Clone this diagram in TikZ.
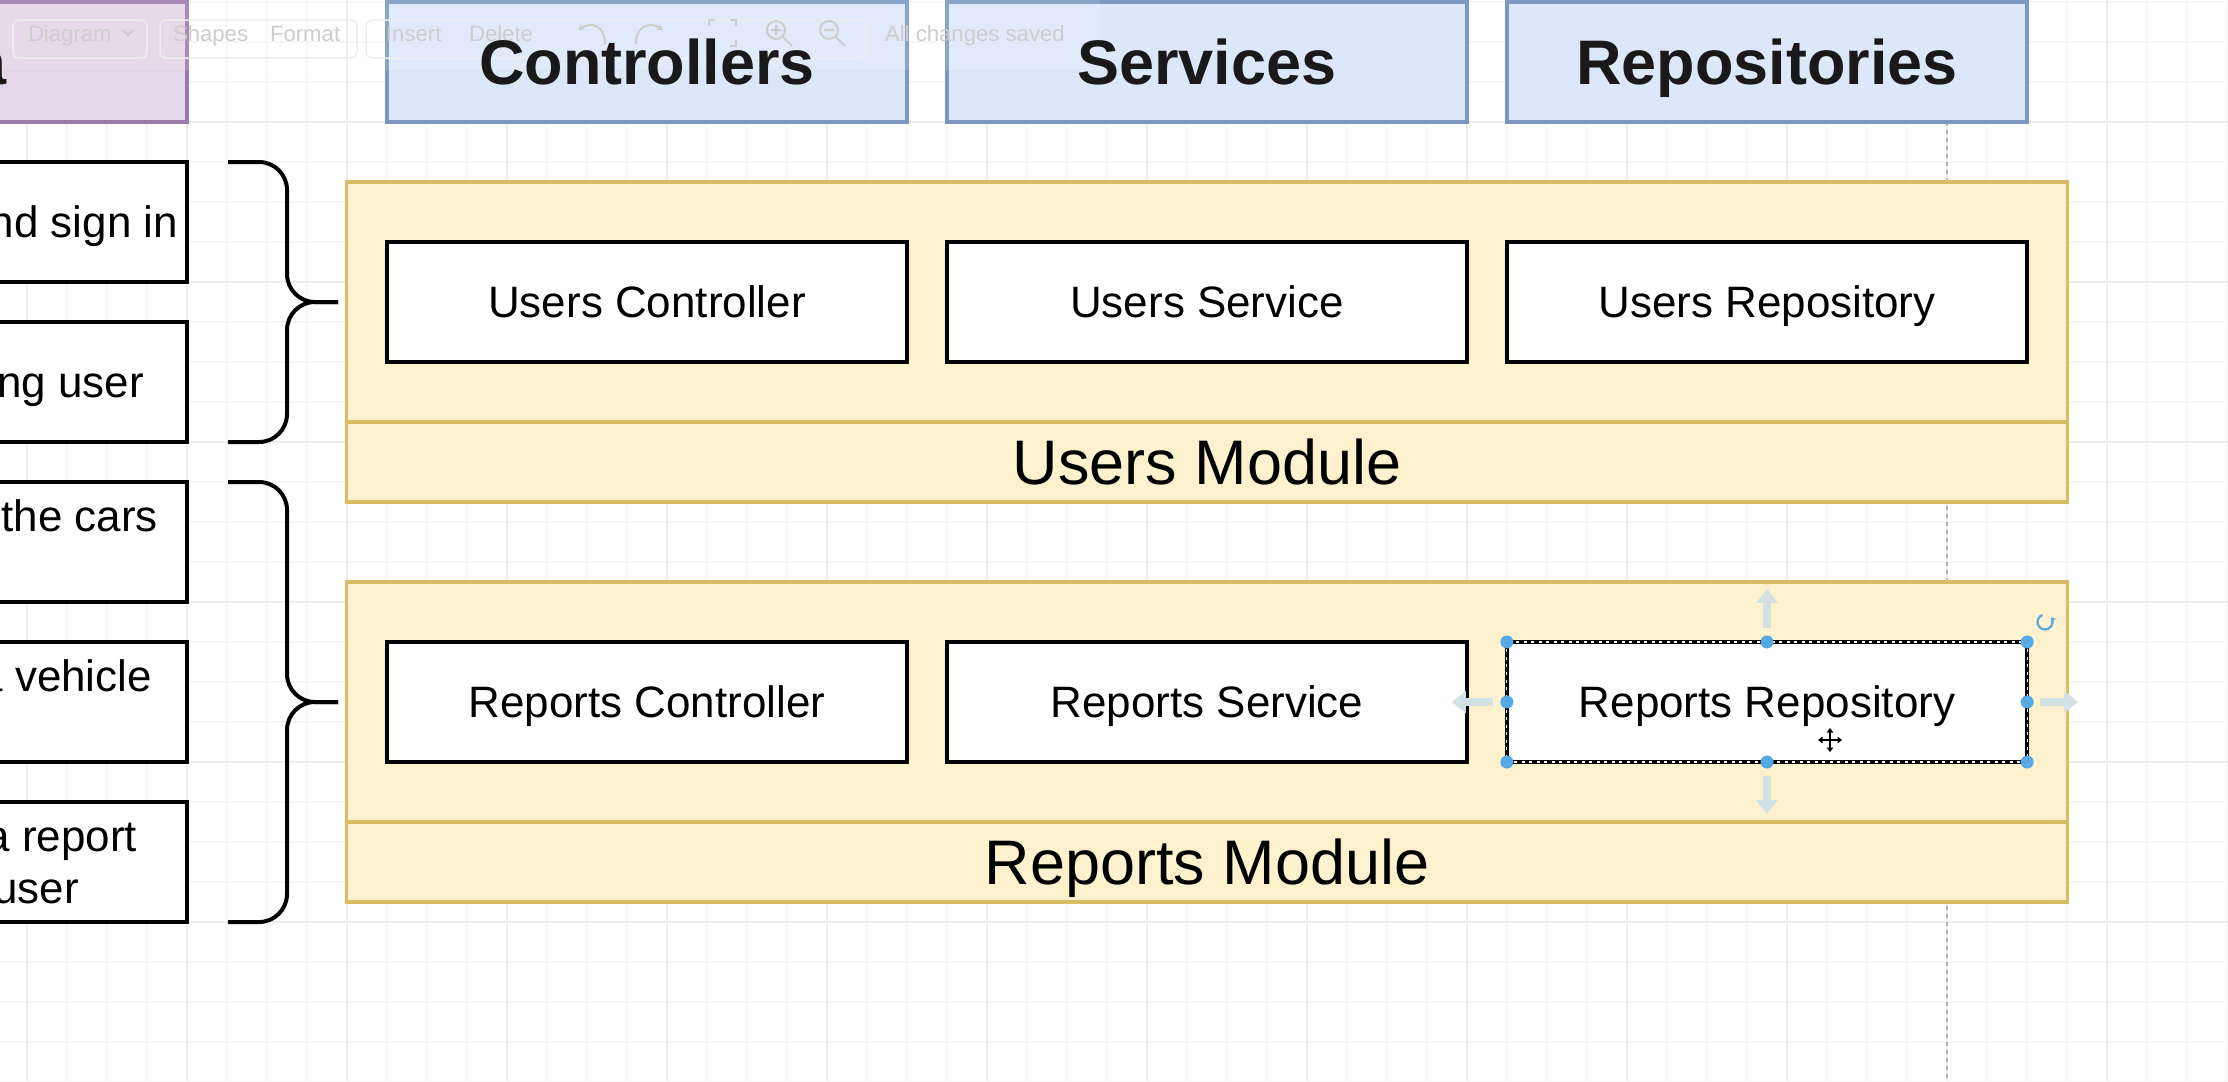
\documentclass[tikz,border=0pt]{standalone}
\usepackage{fontspec}
\setmainfont{Liberation Sans}
\usetikzlibrary{arrows.meta}

\definecolor{hdrfill}{HTML}{DCE8FA}
\definecolor{hdrline}{HTML}{7D97C2}
\definecolor{modfill}{HTML}{FDF1CE}
\definecolor{modline}{HTML}{D9BC66}
\definecolor{purfill}{HTML}{E3D6E8}
\definecolor{purline}{HTML}{9C7BAB}
\definecolor{gridminor}{HTML}{F6F6F6}
\definecolor{gridmajor}{HTML}{EDEDED}
\definecolor{handle}{HTML}{55AAE6}
\definecolor{hint}{HTML}{D2E2E4}
\definecolor{tbgray}{HTML}{CDCDCD}

\begin{document}
\begin{tikzpicture}[x=0.01cm, y=-0.01cm,
  every node/.style={inner sep=0pt, outer sep=0pt},
  hdrbox/.style={draw=hdrline, fill=hdrfill, line width=0.035cm,
    minimum width=5.2cm, minimum height=1.2cm},
  hdrtext/.style={font=\bfseries\fontsize{17.9}{21.5}\selectfont, text=black!90,
    text height=0.45cm, text depth=0pt},
  purbox/.style={draw=purline, fill=purfill, line width=0.035cm,
    minimum width=5.2cm, minimum height=1.2cm},
  modbody/.style={draw=modline, fill=modfill, line width=0.035cm,
    minimum width=17.2cm, minimum height=2.4cm},
  modband/.style={draw=modline, fill=modfill, line width=0.035cm,
    minimum width=17.2cm, minimum height=0.8cm,
    font=\fontsize{17.9}{21.5}\selectfont, text height=0.45cm, text depth=0pt},
  compbox/.style={draw=black, fill=white, line width=0.04cm,
    minimum width=5.2cm, minimum height=1.2cm,
    font=\fontsize{12.5}{15}\selectfont, text height=0.315cm, text depth=0pt},
  sidebox/.style={draw=black, fill=white, line width=0.04cm,
    minimum width=5.2cm, minimum height=1.2cm},
  sidetext/.style={anchor=east, font=\fontsize{12.5}{15}\selectfont,
    text height=0.315cm, text depth=0pt},
  brace/.style={draw=black, line width=0.04cm, rounded corners=0.28cm},
  guide/.style={draw=black!30, line width=0.015cm, dash pattern=on 0.04cm off 0.04cm},
  tbbutton/.style={draw=black!7, line width=0.015cm, rounded corners=0.06cm},
  tbtext/.style={anchor=west, text=tbgray, font=\fontsize{6.3}{7.5}\selectfont,
    text height=0.16cm, text depth=0pt},
  tbicon/.style={draw=tbgray, line width=0.02cm},
  handledot/.style={fill=handle},
  hintarrow/.style={draw=hint, line width=0.075cm,
    -{Triangle[length=0.14cm, width=0.21cm]}}
]
\useasboundingbox (0,0) rectangle (2228,1081);
\clip (0,0) rectangle (2228,1081);
\fill[white] (0,0) rectangle (2228,1081);

% background grid
\foreach \gx in {27,67,...,2227} \draw[gridminor, line width=0.012cm] (\gx,0) -- (\gx,1081);
\foreach \gy in {2,42,...,1082} \draw[gridminor, line width=0.012cm] (0,\gy) -- (2228,\gy);
\foreach \gx in {27,187,...,2187} \draw[gridmajor, line width=0.014cm] (\gx,0) -- (\gx,1081);
\foreach \gy in {122,282,...,922} \draw[gridmajor, line width=0.014cm] (0,\gy) -- (2228,\gy);

% alignment guide
\draw[guide] (1947,122) -- (1947,1081);

% column header boxes
\node[purbox] (pre) at (-73,62) {};
\node[hdrbox] (hctl) at (647,62) {};
\node[hdrbox] (hsvc) at (1207,62) {};
\node[hdrbox] (hrep) at (1767,62) {};

% users module
\node[modbody] (umod) at (1207,302) {};
\node[modband] (uband) at (1207,462) {Users Module};
\node[compbox] (uc) at (647,302) {Users Controller};
\node[compbox] (us) at (1207,302) {Users Service};
\node[compbox] (ur) at (1767,302) {Users Repository};

% reports module
\node[modbody] (rmod) at (1207,702) {};
\node[modband] (rband) at (1207,862) {Reports Module};
\node[compbox] (rc) at (647,702) {Reports Controller};
\node[compbox] (rs) at (1207,702) {Reports Service};
\node[compbox] (rr) at (1767,702) {Reports Repository};

% feature boxes on the left
\node[sidebox] (s1) at (-73,222) {};
\node[sidebox] (s2) at (-73,382) {};
\node[sidebox] (s3) at (-73,542) {};
\node[sidebox] (s4) at (-73,702) {};
\node[sidebox] (s5) at (-73,862) {};
\node[sidetext] (t1) at (178,222) {nd sign in};
\node[sidetext] (t2) at (144,382) {ng user};
\node[sidetext] (t3) at (158,516) {the cars};
\node[sidetext] (t4) at (152,676) {a vehicle};
\node[sidetext] (t5a) at (137,836) {a report};
\node[sidetext] (t5b) at (79,888) {user};

% grouping braces
\coordinate (b1tip) at (338,302);
\coordinate (b2tip) at (338,702);
\draw[brace] (228,162) -- (287,162) -- (287,302) -- (b1tip);
\draw[brace] (228,442) -- (287,442) -- (287,302) -- (b1tip);
\draw[brace] (228,482) -- (287,482) -- (287,702) -- (b2tip);
\draw[brace] (228,922) -- (287,922) -- (287,702) -- (b2tip);

% editor toolbar, faded over the headers
\fill[white, opacity=0.12] (0,0) rectangle (1100,70);
\draw[tbbutton] (13,20) rectangle (147,58);
\draw[tbbutton] (160,20) rectangle (357,58);
\draw[tbbutton] (366,20) rectangle (866,58);
\node[tbtext] (tbdiag) at (28,33) {Diagram};
\draw[tbicon] (123,30) -- (128,35) -- (133,30);
\node[tbtext] (tbshapes) at (173,33) {Shapes};
\node[tbtext] (tbformat) at (270,33) {Format};
\node[tbtext] (tbinsert) at (386,33) {Insert};
\node[tbtext] (tbdelete) at (469,33) {Delete};
\draw[tbicon, -{Stealth[length=0.06cm, width=0.07cm]}] (605,44) .. controls (605,24) and (590,22) .. (578,30);
\draw[tbicon, -{Stealth[length=0.06cm, width=0.07cm]}] (636,44) .. controls (636,24) and (651,22) .. (663,30);
\draw[tbicon] (709,26) -- (709,20) -- (715,20) (730,20) -- (736,20) -- (736,26)
  (736,40) -- (736,46) -- (730,46) (715,46) -- (709,46) -- (709,40);
\draw[tbicon] (776,30) circle (0.09cm) (783,37) -- (792,46) (771,30) -- (781,30) (776,25) -- (776,35);
\draw[tbicon] (829,30) circle (0.09cm) (836,37) -- (845,46) (824,30) -- (834,30);
\node[tbtext] (tbsaved) at (885,33) {All changes saved};

% header labels
\node[hdrtext, anchor=east] (pretxt) at (7,62) {a};
\node[hdrtext] (lctl) at (hctl) {Controllers};
\node[hdrtext] (lsvc) at (hsvc) {Services};
\node[hdrtext] (lrep) at (hrep) {Repositories};

% selection of the reports repository
\draw[white, line width=0.012cm, dash pattern=on 0.03cm off 0.045cm] (rr.north west) rectangle (rr.south east);
\foreach \a in {north west, north, north east, west, east, south west, south, south east}
  \fill[handledot] (rr.\a) circle (0.065cm);
\draw[hintarrow] ([yshift=0.14cm]rr.north) -- ([yshift=0.53cm]rr.north);
\draw[hintarrow] ([yshift=-0.14cm]rr.south) -- ([yshift=-0.52cm]rr.south);
\draw[hintarrow] ([xshift=-0.14cm]rr.west) -- ([xshift=-0.55cm]rr.west);
\draw[hintarrow] ([xshift=0.13cm]rr.east) -- ([xshift=0.51cm]rr.east);
\coordinate (rot) at (2045,622);
\draw[handle, line width=0.022cm, -{Stealth[length=0.05cm, width=0.06cm]}]
  ([shift={(110:0.075cm)}]rot) arc[start angle=110, end angle=400, radius=0.075cm];

% move cursor
\coordinate (mv) at (1830,740);
\draw[white, line width=0.06cm] ([xshift=-0.13cm]mv) -- ([xshift=0.13cm]mv) ([yshift=-0.13cm]mv) -- ([yshift=0.13cm]mv);
\draw[black, line width=0.02cm, {Triangle[length=0.045cm, width=0.065cm]}-{Triangle[length=0.045cm, width=0.065cm]}]
  ([xshift=-0.12cm]mv) -- ([xshift=0.12cm]mv);
\draw[black, line width=0.02cm, {Triangle[length=0.045cm, width=0.065cm]}-{Triangle[length=0.045cm, width=0.065cm]}]
  ([yshift=-0.12cm]mv) -- ([yshift=0.12cm]mv);
\end{tikzpicture}
\end{document}
